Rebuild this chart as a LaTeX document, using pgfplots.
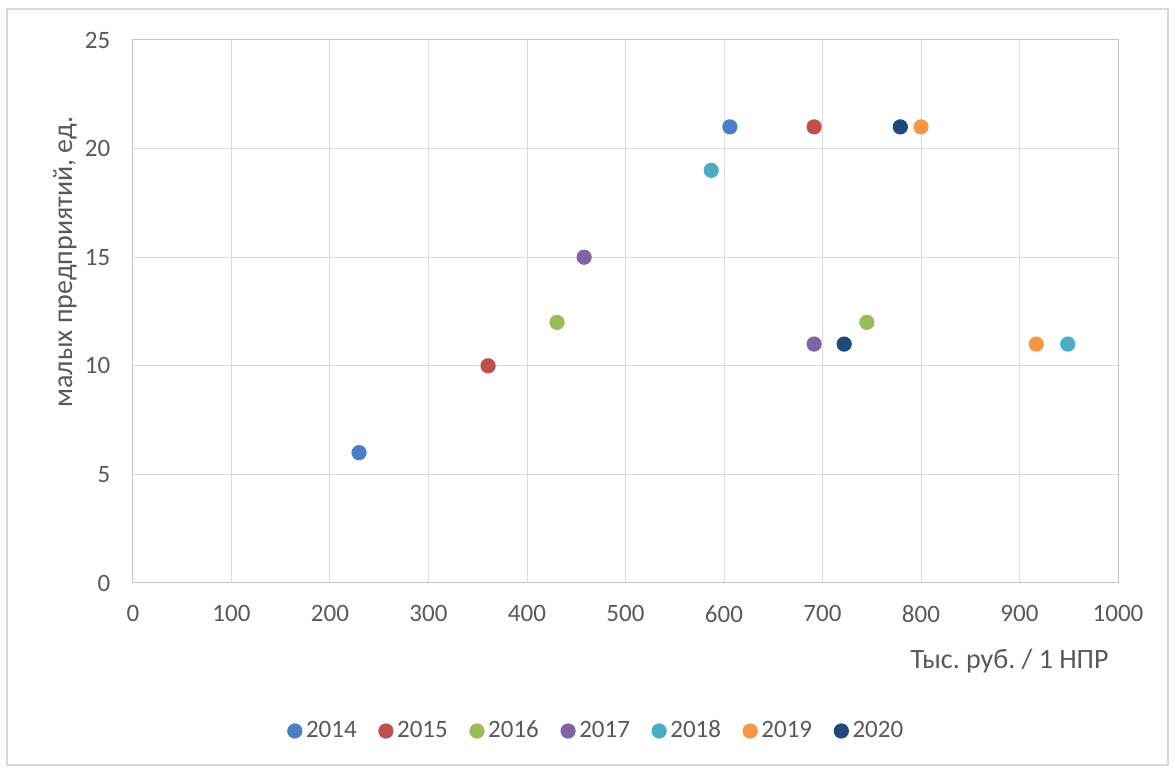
\documentclass[border=0pt]{standalone}
\usepackage{fontspec}
\setmainfont{Carlito}
\usepackage{pgfplots}
\pgfplotsset{compat=1.18}
\definecolor{txt}{HTML}{595959}
\definecolor{c14}{HTML}{4A7EC6}
\definecolor{c15}{HTML}{C0504D}
\definecolor{c16}{HTML}{9BBB59}
\definecolor{c17}{HTML}{8064A2}
\definecolor{c18}{HTML}{4BACC6}
\definecolor{c19}{HTML}{F79646}
\definecolor{c20}{HTML}{1F497D}
\frenchspacing
\begin{document}
\begin{tikzpicture}
\fontsize{12.5pt}{15pt}\selectfont
\begin{axis}[
  at={(0,0)}, anchor=south west,
  scale only axis, width=492.5pt, height=271.5pt,
  xmin=0, xmax=1000, ymin=0, ymax=25,
  xtick={0,100,...,1000}, ytick={0,5,...,25},
  grid=major, major grid style={draw=black!14, line width=0.5pt},
  axis line style={draw=black!22, line width=0.5pt},
  tick style={draw=none},
  ticklabel style={color=txt, font=\fontsize{12.5pt}{15pt}\selectfont},
  /pgf/number format/assume math mode=true,
  /pgf/number format/1000 sep={},
  yticklabel style={xshift=-7pt},
  xticklabel style={yshift=-7pt},
  xlabel={Тыс. руб. / 1 НПР},
  xlabel style={at={(rel axis cs:0.890,0)}, anchor=center, yshift=-39pt, color=txt, font=\fontsize{14pt}{16pt}\selectfont},
  ylabel={малых предприятий, ед.},
  ylabel style={at={(rel axis cs:0,0.591)}, anchor=center, yshift=34pt, color=txt, font=\fontsize{14pt}{16pt}\selectfont},
  legend columns=7,
  legend style={draw=none, fill=none, at={(rel axis cs:0.4715,-0.2726)}, anchor=center,
    font=\fontsize{12.5pt}{15pt}\selectfont, text=txt,
    /tikz/every even column/.append style={column sep=9pt}},
  legend cell align=left,
  legend image code/.code={\path[draw=none, fill=none, use as bounding box] (-3.6pt,-3.6pt) rectangle (3.6pt,3.6pt);
     \fill[#1] (0,0) circle (3.6pt);},
  clip=false,
]
\addplot[only marks, mark=*, mark size=3.6pt, color=c14] coordinates {(229.5,6) (606,21)};
\addlegendentry{2014}
\addplot[only marks, mark=*, mark size=3.6pt, color=c15] coordinates {(360.5,10) (691.5,21)};
\addlegendentry{2015}
\addplot[only marks, mark=*, mark size=3.6pt, color=c16] coordinates {(430.5,12) (745,12)};
\addlegendentry{2016}
\addplot[only marks, mark=*, mark size=3.6pt, color=c17] coordinates {(458,15) (691.5,11)};
\addlegendentry{2017}
\addplot[only marks, mark=*, mark size=3.6pt, color=c18] coordinates {(587,19) (949,11)};
\addlegendentry{2018}
\addplot[only marks, mark=*, mark size=3.6pt, color=c19] coordinates {(800,21) (917,11)};
\addlegendentry{2019}
\addplot[only marks, mark=*, mark size=3.6pt, color=c20] coordinates {(779,21) (722,11)};
\addlegendentry{2020}
\end{axis}
\draw[black!15, line width=0.8pt] (-63pt,-91pt) rectangle (517.5pt,287pt);
\path (-66.5pt,-93.5pt) rectangle (520.5pt,291.5pt);
\end{tikzpicture}
\end{document}
